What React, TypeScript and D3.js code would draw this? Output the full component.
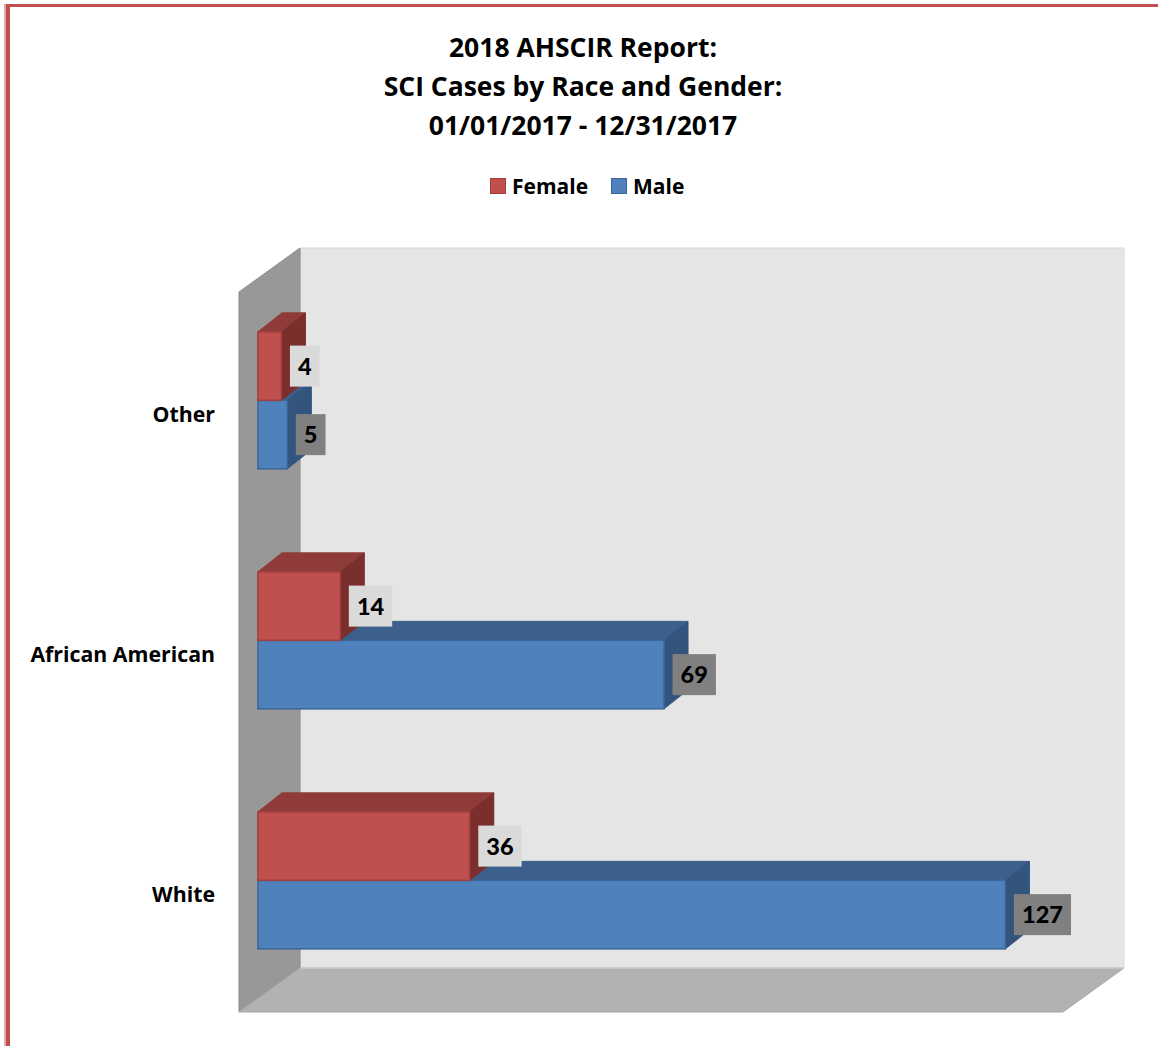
import React from "react";
import * as d3 from "d3";

const titleLines = ["2018 AHSCIR Report:", "SCI Cases by Race and Gender:", "01/01/2017 - 12/31/2017"];
const categories = ["Other", "African American", "White"];
const seriesNames = ["Female", "Male"];
const femaleValues = [4, 14, 36];
const maleValues = [5, 69, 127];
const valueMax = 140;

const W = 1158;
const H = 1046;
const FONT = "'Open Sans', Lato, sans-serif";
const VFONT = "Lato, 'Open Sans', sans-serif";

// 3D geometry of the plot box
const frontLeft = 239;
const frontTop = 292;
const frontBottom = 1012;
const wallDX = 61;
const wallDY = -44;
const barT = 0.31; // depth of bar front face (fraction of wall depth)
const barDX = 24;
const barDY = -19;

const colors = {
  Female: { front: "#C0504D", top: "#8E3B39", side: "#7B2F2D", stroke: "#9E3F3C", label: "#DADADA" },
  Male: { front: "#4F81BD", top: "#3C5F8B", side: "#33547D", stroke: "#3B6699", label: "#808080" },
};

export default function App() {
  const x = d3.scaleLinear().domain([0, valueMax]).range([0, 824]);
  const yCat = d3.scaleBand<string>().domain(categories).range([frontTop, frontBottom]).padding(0);
  const ySer = d3.scaleBand<string>().domain(seriesNames).range([53.5, 190.5]).padding(0);

  const bx0 = frontLeft + wallDX * barT; // x of value 0 at bar front plane
  const byOff = wallDY * barT;

  const backLeft = frontLeft + wallDX;
  const backTop = frontTop + wallDY;
  const backBottom = frontBottom + wallDY;
  const backRight = backLeft + x(valueMax);
  const frontRight = frontLeft + x(valueMax);

  const pts = (arr: number[][]) => arr.map((p) => p.join(",")).join(" ");

  const bars: any[] = [];
  categories.forEach((cat, ci) => {
    // draw Male first so Female (above) overlaps it
    ["Male", "Female"].forEach((s) => {
      const v = s === "Female" ? femaleValues[ci] : maleValues[ci];
      const c = (colors as any)[s];
      const y0 = (yCat(cat) as number) + (ySer(s) as number) + byOff;
      const h = ySer.bandwidth();
      const xl = bx0;
      const xr = bx0 + x(v);
      bars.push({ cat, s, v, c, y0, h, xl, xr });
    });
  });

  return (
    <svg width={W} height={H} style={{ position: "absolute", left: 0, top: 0, background: "#fff" }}>
      {/* border */}
      <rect x={4} y={4} width={W - 4} height={3} fill="#C0504D" />
      <rect x={4} y={4} width={2} height={H - 4} fill="#E3A9A7" />
      <rect x={6} y={4} width={4} height={H - 4} fill="#C0504D" />

      {/* title */}
      {titleLines.map((t, i) => (
        <text key={i} x={583} y={56.5 + i * 39.3} textAnchor="middle" fontFamily={FONT} fontWeight="bold" fontSize={26.5} fill="#000">
          {t}
        </text>
      ))}

      {/* legend */}
      <g>
        <rect x={490.5} y={178.5} width={15} height={15} fill={colors.Female.front} stroke={colors.Female.stroke} />
        <text x={512} y={194} fontFamily={FONT} fontWeight="bold" fontSize={21}>{seriesNames[0]}</text>
        <rect x={611.5} y={178.5} width={15} height={15} fill={colors.Male.front} stroke={colors.Male.stroke} />
        <text x={633} y={194} fontFamily={FONT} fontWeight="bold" fontSize={21}>{seriesNames[1]}</text>
      </g>

      {/* back wall */}
      <rect x={backLeft} y={backTop} width={backRight - backLeft} height={backBottom - backTop} fill="#E5E5E5" stroke="#DADADA" strokeWidth={1} />
      {/* side wall */}
      <polygon
        points={pts([[frontLeft, frontTop], [backLeft, backTop], [backLeft, backBottom], [frontLeft, frontBottom]])}
        fill="#989898"
        stroke="#8A8A8A"
        strokeWidth={1}
      />
      {/* floor */}
      <polygon
        points={pts([[frontLeft, frontBottom], [backLeft, backBottom], [backRight, backBottom], [frontRight, frontBottom]])}
        fill="#B2B2B2"
        stroke="#A8A8A8"
        strokeWidth={1}
      />
      <line x1={backLeft} x2={backRight} y1={backBottom} y2={backBottom} stroke="#CFCFCF" strokeWidth={1.5} />

      {/* bars */}
      {bars.map((b, i) => (
        <g key={i}>
          <polygon
            points={pts([[b.xl, b.y0], [b.xl + barDX, b.y0 + barDY], [b.xr + barDX, b.y0 + barDY], [b.xr, b.y0]])}
            fill={b.c.top}
            stroke={b.c.top}
            strokeWidth={1}
            strokeLinejoin="round"
          />
          <polygon
            points={pts([[b.xr, b.y0], [b.xr + barDX, b.y0 + barDY], [b.xr + barDX, b.y0 + b.h + barDY], [b.xr, b.y0 + b.h]])}
            fill={b.c.side}
            stroke={b.c.side}
            strokeWidth={1}
            strokeLinejoin="round"
          />
          <rect x={b.xl} y={b.y0} width={b.xr - b.xl} height={b.h} fill={b.c.front} stroke={b.c.stroke} strokeWidth={1.5} />
        </g>
      ))}

      {/* value labels */}
      {bars.map((b, i) => {
        const txt = String(b.v);
        const bw = 16 + 13.7 * txt.length;
        const bh = 41;
        const lx = b.xr + 8.5;
        const cy = b.y0 + b.h / 2;
        return (
          <g key={"l" + i}>
            <rect x={lx} y={cy - bh / 2} width={bw} height={bh} fill={b.c.label} />
            <text x={lx + bw / 2} y={cy + 8.5} textAnchor="middle" fontFamily={VFONT} fontWeight={900} fontSize={23.5} fill="#000">
              {txt}
            </text>
          </g>
        );
      })}

      {/* category labels */}
      {categories.map((c) => (
        <text
          key={c}
          x={215}
          y={(yCat(c) as number) + yCat.bandwidth() / 2 + 10}
          textAnchor="end"
          fontFamily={FONT}
          fontWeight="bold"
          fontSize={21.3}
          fill="#000"
        >
          {c}
        </text>
      ))}
    </svg>
  );
}
